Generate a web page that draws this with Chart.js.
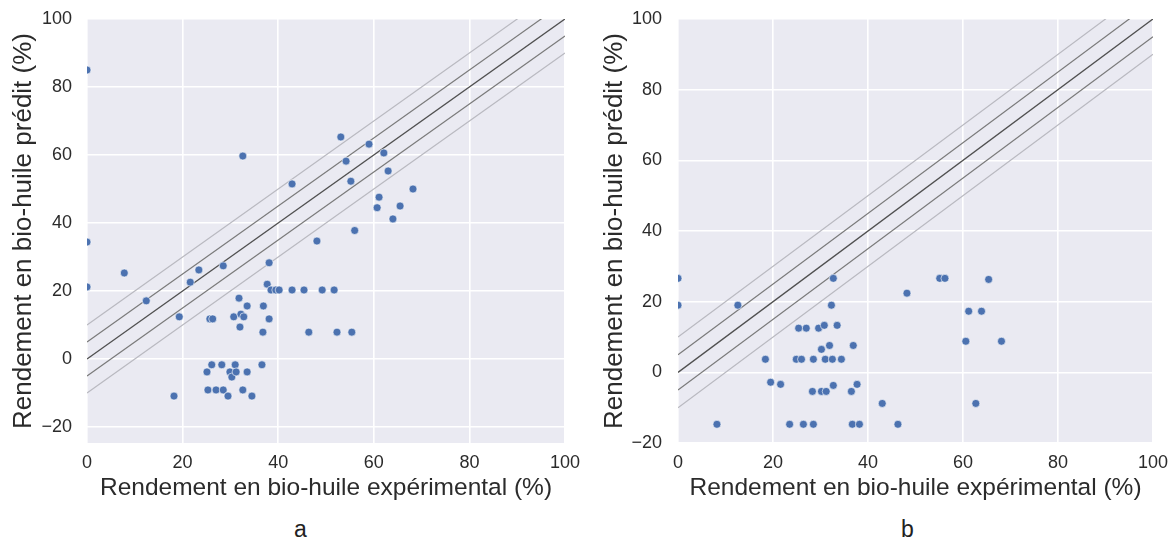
<!DOCTYPE html>
<html>
<head>
<meta charset="utf-8">
<script src="https://cdn.jsdelivr.net/npm/chart.js@4"></script>
<style>
    body { margin: 0; background: #fff; width: 1175px; height: 542px; position: relative; overflow: hidden; }
    .box { position: absolute; top: 0; }
    .tag { position: absolute; top: 516px; font: 23px "Liberation Sans", Arial, sans-serif; color: #222; }
</style>
</head>
<body>
<div class="box" style="left:0;width:585px;height:507px"><canvas id="chartA"></canvas></div>
<div class="box" style="left:590px;width:585px;height:507px"><canvas id="chartB"></canvas></div>
<div class="tag" style="left:294px">a</div>
<div class="tag" style="left:901px">b</div>
<script>
// panel a : experimental vs predicted yield
const aExp = [0, 0, 0, 7.8, 12.4, 18.2, 19.3, 21.6, 23.4, 25.1, 25.3, 25.7, 26.1, 26.3, 27.0, 28.2,
    28.5, 28.5, 29.5, 29.9, 30.3, 30.7, 31.0, 31.2, 31.8, 32.0, 32.2, 32.6, 32.6, 32.8, 33.5, 33.5,
    34.5, 36.6, 36.8, 36.9, 37.7, 38.1, 38.1, 38.5, 39.5, 40.2, 42.9, 42.9, 45.4, 46.4, 48.1, 49.2,
    51.7, 52.3, 53.1, 54.2, 55.2, 55.4, 56.0, 59.0, 60.7, 61.1, 62.1, 63.0, 64.0, 65.5, 68.2];
const aPred = [85, 34.4, 21.2, 25.3, 17.1, -10.9, 12.4, 22.6, 26.2, -3.8, -9.1, 11.8, -1.7, 11.8, -9.1, -1.7,
    27.4, -9.1, -10.9, -3.8, -5.3, 12.4, -1.7, -3.8, 17.9, 9.4, 13.2, -9.1, 59.7, 12.4, 15.6, -3.8,
    -10.9, -1.7, 7.9, 15.6, 22.0, 28.3, 11.8, 20.3, 20.3, 20.3, 20.3, 51.5, 20.3, 7.9, 34.7, 20.3,
    20.3, 7.9, 65.3, 58.2, 52.3, 7.9, 37.8, 63.2, 44.5, 47.6, 60.6, 55.3, 41.2, 45.0, 50.0];

// panel b
const bExp = [0, 0, 8.2, 12.6, 18.4, 19.5, 21.6, 23.5, 24.9, 25.4, 26.0, 26.4, 27.0, 28.3, 28.5, 28.5,
    29.6, 30.2, 30.2, 30.8, 31.0, 31.2, 31.9, 32.3, 32.5, 32.7, 32.7, 33.5, 34.4, 36.5, 36.7, 36.9,
    37.7, 38.2, 43.0, 46.3, 48.2, 55.1, 56.2, 60.6, 61.2, 62.7, 63.9, 65.4, 68.1];
const bPred = [26.6, 19.0, -14.7, 19.0, 3.7, -2.8, -3.4, -14.7, 3.7, 12.5, 3.7, -14.7, 12.5, -5.4, 3.7, -14.7,
    12.5, 6.5, -5.4, 13.3, 3.7, -5.4, 7.6, 19.0, 3.7, 26.6, -3.7, 13.3, 3.7, -5.4, -14.7, 7.6,
    -3.4, -14.7, -8.8, -14.7, 22.4, 26.6, 26.6, 8.8, 17.3, -8.8, 17.3, 26.3, 8.8];

// reference lines y = x + offset
const lineOffsets = [0, 5, -5, 10, -10];
const lineColors = ["#505050", "#7a7a7a", "#7a7a7a", "#b9b9c0", "#b9b9c0"];

const xTicks = [0, 20, 40, 60, 80, 100];
const yTicks = [-20, 0, 20, 40, 60, 80, 100];

const xTitle = "Rendement en bio-huile expérimental (%)";
const yTitle = "Rendement en bio-huile prédit (%)";

const FONT = "'Liberation Sans', Arial, sans-serif";

const bgPlugin = {
    id: "bg",
    beforeDraw(chart) {
        const a = chart.chartArea;
        const c = chart.ctx;
        c.save();
        c.fillStyle = "#eaeaf2";
        c.fillRect(a.left, a.top, a.right - a.left, a.bottom - a.top);
        c.restore();
    }
};

function makeChart(id, xs, ys, yMin, padLeft, padRight, yTickPad) {
    const pts = xs.map((x, i) => ({ x: x, y: ys[i] }));
    const sets = [{
        type: "scatter",
        data: pts,
        backgroundColor: "#4c72b0",
        borderColor: "#ffffff",
        borderWidth: 0.6,
        pointRadius: 4,
    }];
    lineOffsets.forEach((off, i) => {
        sets.push({
            type: "line",
            data: [{ x: 0, y: off }, { x: 100, y: 100 + off }],
            borderColor: lineColors[i],
            borderWidth: i == 0 ? 1.4 : 1.2,
            pointRadius: 0,
        });
    });

    return new Chart(document.getElementById(id), {
        type: "scatter",
        data: { datasets: sets },
        options: {
            responsive: true,
            maintainAspectRatio: false,
            animation: false,
            layout: { padding: { left: padLeft, right: padRight, top: 19, bottom: 0 } },
            plugins: { legend: { display: false }, tooltip: { enabled: false } },
            scales: {
                x: {
                    type: "linear",
                    min: 0,
                    max: 100,
                    afterBuildTicks: s => { s.ticks = xTicks.map(v => ({ value: v })); },
                    afterFit: s => { s.height = 64; s.paddingLeft = 0; s.paddingRight = 0; },
                    border: { display: false },
                    grid: { color: "#ffffff", lineWidth: 1.6, drawTicks: false },
                    ticks: { padding: 9, color: "#2b2b2b", font: { family: FONT, size: 18 } },
                    title: { display: true, text: xTitle, color: "#2b2b2b", padding: { top: 0, bottom: 4 },
                        font: { family: FONT, size: 24.5 } },
                },
                y: {
                    type: "linear",
                    min: yMin,
                    max: 100,
                    afterBuildTicks: s => { s.ticks = yTicks.map(v => ({ value: v })); },
                    afterFit: s => { s.width = 83; s.paddingTop = 0; s.paddingBottom = 0; },
                    border: { display: false },
                    grid: { color: "#ffffff", lineWidth: 1.6, drawTicks: false },
                    ticks: { padding: yTickPad, color: "#2b2b2b", font: { family: FONT, size: 18 },
                        callback: v => String(v).replace("-", "\u2212") },
                    title: { display: true, text: yTitle, color: "#2b2b2b", padding: { top: 4, bottom: 0 },
                        font: { family: FONT, size: 26 } },
                },
            },
        },
        plugins: [bgPlugin],
    });
}

makeChart("chartA", aExp, aPred, -24.7, 4, 20, 15);
makeChart("chartB", bExp, bPred, -20, 5, 22, 16);
</script>
</body>
</html>
